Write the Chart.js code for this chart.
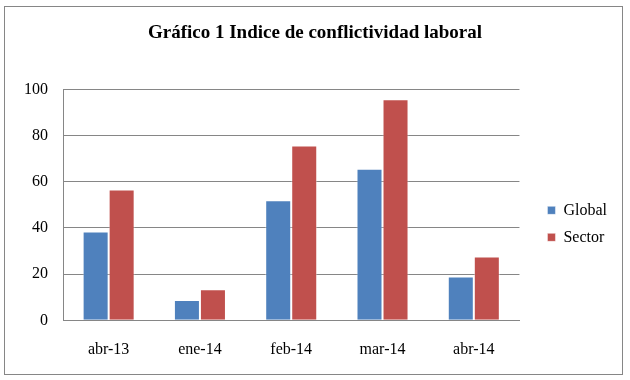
<!DOCTYPE html>
<html>
<head>
<meta charset="utf-8">
<script src="https://cdn.jsdelivr.net/npm/chart.js@4.4.0/dist/chart.umd.min.js"></script>
<style>
  html, body { margin: 0; padding: 0; background: #ffffff; }
  #wrap { position: relative; width: 630px; height: 380px; }
  #frame { position: absolute; left: 4px; top: 6px; width: 619px; height: 369px; border: 1px solid #868686; box-sizing: border-box; }
  canvas { position: absolute; left: 0; top: 0; }
</style>
</head>
<body>
<div id="wrap">
  <div id="frame"></div>
  <canvas id="c" width="630" height="380"></canvas>
</div>
<script>
const categories = ["abr-13", "ene-14", "feb-14", "mar-14", "abr-14"];
const globalValues = [38.5, 8.8, 52, 65.6, 19];
const sectorValues = [56.6, 13.4, 75.7, 95.7, 27.6];
const yTicks = [0, 20, 40, 60, 80, 100];
const titleText = "Gráfico 1 Indice de conflictividad laboral";

const serif = "'Liberation Serif', 'Times New Roman', serif";

// place the legend box to the right of the plot and centre the title on the frame
const layoutTweaks = {
  id: 'layoutTweaks',
  afterLayout(chart) {
    const lg = chart.legend;
    const ca = chart.chartArea;
    if (lg) {
      const w = lg.right - lg.left;
      lg.left = ca.right + 17;
      lg.right = lg.left + w;
      lg.top = ca.top + 19;
      lg.bottom = ca.bottom + 19;
      lg.height = lg.bottom - lg.top;
    }
    const tb = chart.titleBlock;
    if (tb) {
      tb.left += 15;
      tb.right += 15;
    }
  }
};

new Chart(document.getElementById('c'), {
  type: 'bar',
  data: {
    labels: categories,
    datasets: [
      { label: 'Global', data: globalValues, backgroundColor: '#4F81BD', borderColor: 'rgba(255,255,255,0.45)', borderWidth: 1 },
      { label: 'Sector', data: sectorValues, backgroundColor: '#C0504D', borderColor: 'rgba(255,255,255,0.45)', borderWidth: 1 }
    ]
  },
  plugins: [layoutTweaks],
  options: {
    responsive: false,
    animation: false,
    devicePixelRatio: 1,
    layout: { padding: { left: 0, right: 30, top: 0, bottom: 0.5 } },
    datasets: { bar: { categoryPercentage: 0.57, barPercentage: 1.0 } },
    plugins: {
      title: {
        display: true,
        text: titleText,
        color: '#000000',
        font: { family: serif, size: 19, weight: 'bold' },
        padding: { top: 21.6, bottom: 45 }
      },
      legend: {
        display: true,
        position: 'right',
        align: 'center',
        labels: {
          color: '#000000',
          font: { family: serif, size: 16 },
          boxWidth: 8,
          boxHeight: 8,
          padding: 11
        }
      },
      tooltip: { enabled: false }
    },
    scales: {
      x: {
        grid: { display: false, drawTicks: false },
        border: { display: true, color: '#868686', width: 1 },
        ticks: { color: '#000000', font: { family: serif, size: 16 }, padding: 20 }
      },
      y: {
        min: 0,
        max: 100,
        afterFit: (s) => { s.width = 63; },
        afterBuildTicks: (s) => { s.ticks = yTicks.map(v => ({ value: v })); },
        grid: { color: '#868686', lineWidth: 1, drawTicks: false },
        border: { display: true, color: '#868686', width: 1 },
        ticks: { color: '#000000', font: { family: serif, size: 16 }, padding: 15 }
      }
    }
  }
});
</script>
</body>
</html>
